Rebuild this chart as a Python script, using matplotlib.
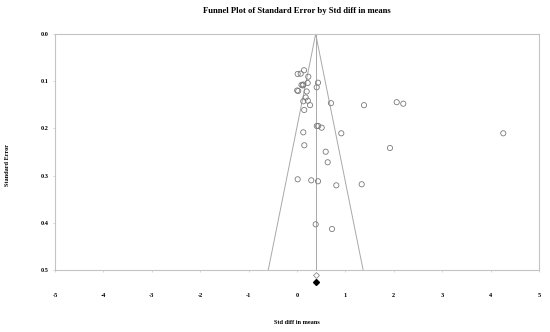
import numpy as np
import matplotlib
matplotlib.use('Agg')
import matplotlib.pyplot as plt

# study effects (std diff in means) and standard errors
std_diff = [0.014, 0.076, 0.145, 0.233, 0.093, 0.118, 0.130, 0.221, 0.434, 0.407,
            0.004, 0.025, 0.200, 0.180, 0.130, 0.223, 0.269, 0.149, 0.702, 1.384,
            2.060, 2.196, 0.409, 0.438, 0.510, 0.130, 0.915, 4.262, 0.151, 1.921,
            0.593, 0.634, 0.014, 0.295, 0.434, 0.812, 1.337, 0.386, 0.723]
std_err = [0.0847, 0.0841, 0.0769, 0.0905, 0.108, 0.109, 0.107, 0.1038, 0.1032, 0.1129,
           0.1197, 0.1208, 0.1218, 0.1345, 0.1426, 0.1413, 0.1508, 0.161, 0.1466, 0.1508,
           0.1445, 0.1477, 0.1949, 0.1949, 0.1985, 0.2083, 0.2104, 0.2104, 0.2358, 0.2415,
           0.2494, 0.2718, 0.3078, 0.31, 0.312, 0.3206, 0.3184, 0.4032, 0.4131]

pooled = 0.386
se_max = 0.5
diamond_se = [0.5106, 0.5261]   # open, filled
x_ticks = [-5, -4, -3, -2, -1, 0, 1, 2, 3, 4, 5]
y_ticks = [0.0, 0.1, 0.2, 0.3, 0.4, 0.5]

serif = ['Liberation Serif', 'DejaVu Serif']
frame_col = '#c4c4c4'
line_col = '#a8a8a8'

fig = plt.figure(figsize=(5.5, 3.32), dpi=100)
ax = fig.add_axes([0.1, 0.1867, 0.88, 0.711])

# funnel
ax.plot([pooled - 1.96 * se_max, pooled, pooled + 1.96 * se_max], [se_max, 0, se_max],
        color=line_col, lw=0.7, zorder=1)
ax.plot([pooled, pooled], [0, se_max], color=line_col, lw=0.7, zorder=1)

ax.scatter(std_diff, std_err, s=14, facecolors='none', edgecolors='#7a7a7a',
           linewidths=0.6, zorder=3)

# combined effect diamonds under the axis
ax.plot([pooled], [diamond_se[0]], marker='D', ms=3, mfc='white', mec='#8a8a8a',
        mew=0.6, clip_on=False, zorder=4)
ax.plot([pooled], [diamond_se[1]], marker='D', ms=3, mfc='black', mec='black',
        clip_on=False, zorder=4)

ax.set_xlim(-5, 5)
ax.set_ylim(se_max, 0)
ax.set_xticks(x_ticks)
ax.set_yticks(y_ticks)
ax.set_xticklabels([str(t) for t in x_ticks], family=serif, fontsize=4.5, weight='bold')
ax.set_yticklabels([f'{t:.1f}' for t in y_ticks], family=serif, fontsize=4.5, weight='bold')
ax.tick_params(axis='x', length=1.5, width=0.5, color=frame_col, pad=15)
ax.tick_params(axis='y', length=1.5, width=0.5, color=frame_col, pad=3)
for sp in ax.spines.values():
    sp.set_color(frame_col)
    sp.set_linewidth(0.8)

fig.text(297 / 550, 1 - 322 / 332, 'Std diff in means', family=serif, fontsize=4.5,
         weight='bold', ha='center', va='center')
fig.text(8 / 550, 1 - 165 / 332, 'Standard Error', family=serif, fontsize=4.5,
         weight='bold', ha='center', va='center', rotation=90)
fig.text(297 / 550, 1 - 11 / 332, 'Funnel Plot of Standard Error by Std diff in means',
         family=serif, fontsize=6.2, weight='bold', ha='center', va='center')

fig.savefig('out.png', dpi=100)
